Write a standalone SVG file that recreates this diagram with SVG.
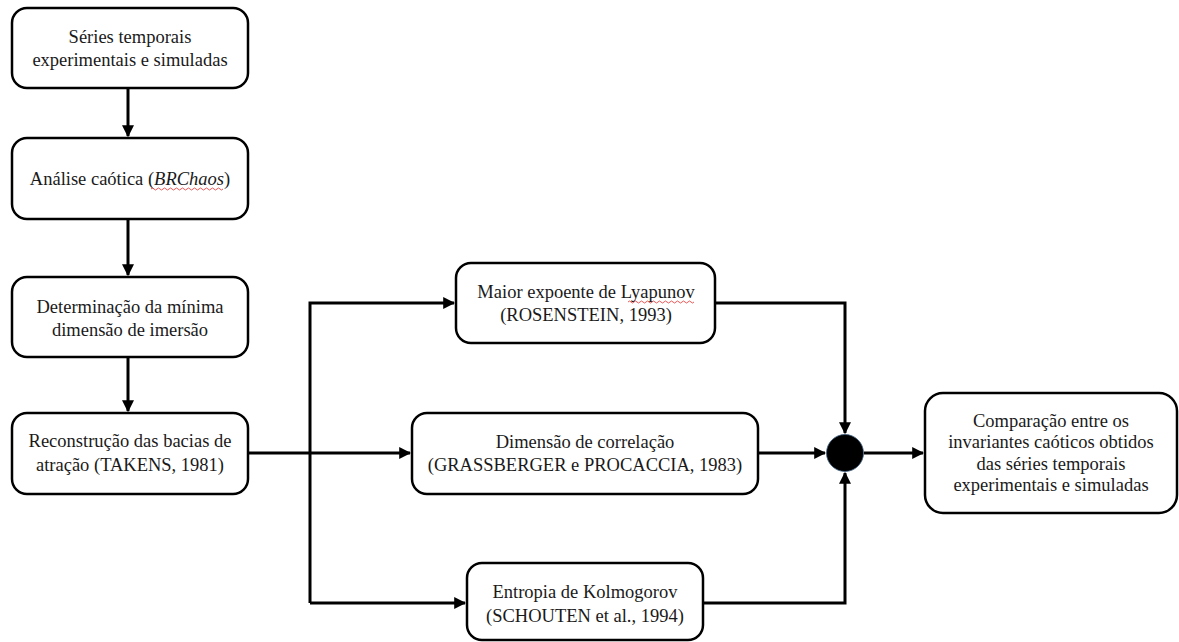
<svg xmlns="http://www.w3.org/2000/svg" width="1179" height="642" viewBox="0 0 1179 642">
<style>
.box{fill:#fff;stroke:#000;stroke-width:2.5}
.t{font-family:"Liberation Serif","Times New Roman",serif;font-size:18.5px;fill:#1a1a1a;text-anchor:middle}
.c{fill:none;stroke:#000;stroke-width:3}
.sq{fill:none;stroke:#e03030;stroke-width:0.8}
</style>
<defs>
<marker id="ah" viewBox="0 0 10 10" refX="9" refY="5" markerWidth="4" markerHeight="4" orient="auto" markerUnits="strokeWidth">
<path d="M0,0 L10,5 L0,10 z" fill="#000"/>
</marker>
</defs>
<g id="connectors">
<line class="c" x1="128" y1="88" x2="128" y2="136" marker-end="url(#ah)"/>
<line class="c" x1="128" y1="219" x2="128" y2="275" marker-end="url(#ah)"/>
<line class="c" x1="128" y1="357" x2="128" y2="411" marker-end="url(#ah)"/>
<line class="c" x1="248" y1="453" x2="410" y2="453" marker-end="url(#ah)"/>
<polyline class="c" points="310,603 310,303 454,303" marker-end="url(#ah)"/>
<line class="c" x1="310" y1="603" x2="465" y2="603" marker-end="url(#ah)"/>
<polyline class="c" points="715,303 845,303 845,433" marker-end="url(#ah)"/>
<line class="c" x1="758" y1="453" x2="825" y2="453" marker-end="url(#ah)"/>
<polyline class="c" points="703,603 845,603 845,473" marker-end="url(#ah)"/>
<line class="c" x1="864" y1="453" x2="923" y2="453" marker-end="url(#ah)"/>
</g>
<g id="n1"><rect class="box" x="12" y="8" width="236" height="80" rx="15"/>
<text class="t" x="130" y="43">Séries temporais</text><text class="t" x="130" y="66">experimentais e simuladas</text></g>
<g id="n2"><rect class="box" x="12" y="138" width="236" height="81" rx="15"/>
<text class="t" x="130" y="185">Análise caótica (<tspan font-style="italic">BRChaos</tspan>)</text>
<path class="sq" d="M151,189 q1.5,-2 3,0 t3,0 t3,0 t3,0 t3,0 t3,0 t3,0 t3,0 t3,0 t3,0 t3,0 t3,0 t3,0 t3,0 t3,0 t3,0 t3,0 t3,0 t3,0 t3,0 t3,0 t3,0 t3,0 t3,0"/></g>
<g id="n3"><rect class="box" x="12" y="277" width="236" height="80" rx="15"/>
<text class="t" x="130" y="313">Determinação da mínima</text><text class="t" x="130" y="336">dimensão de imersão</text></g>
<g id="n4"><rect class="box" x="12" y="413" width="236" height="81" rx="15"/>
<text class="t" x="130" y="447">Reconstrução das bacias de</text><text class="t" x="130" y="471">atração (TAKENS, 1981)</text></g>
<g id="n5"><rect class="box" x="456" y="263" width="259" height="80" rx="15"/>
<text class="t" x="586" y="298">Maior expoente de Lyapunov</text><text class="t" x="586" y="321">(ROSENSTEIN, 1993)</text>
<path class="sq" d="M628,302 q1.5,-2 3,0 t3,0 t3,0 t3,0 t3,0 t3,0 t3,0 t3,0 t3,0 t3,0 t3,0 t3,0 t3,0 t3,0 t3,0 t3,0 t3,0 t3,0 t3,0 t3,0 t3,0 t3,0"/></g>
<g id="n6"><rect class="box" x="412" y="413" width="346" height="81" rx="15"/>
<text class="t" x="585" y="448">Dimensão de correlação</text><text class="t" x="585" y="471">(GRASSBERGER e PROCACCIA, 1983)</text></g>
<g id="n7"><rect class="box" x="467" y="563" width="236" height="77" rx="15"/>
<text class="t" x="585" y="598">Entropia de Kolmogorov</text><text class="t" x="585" y="622">(SCHOUTEN et al., 1994)</text></g>
<g id="junction"><circle cx="845" cy="453" r="18.5" fill="#000" stroke="#3a5a7a" stroke-width="0.8"/></g>
<g id="n8"><rect class="box" x="925" y="393" width="252" height="120" rx="18"/>
<text class="t" x="1051" y="427">Comparação entre os</text><text class="t" x="1051" y="448">invariantes caóticos obtidos</text><text class="t" x="1051" y="470">das séries temporais</text><text class="t" x="1051" y="491">experimentais e simuladas</text></g>
</svg>
